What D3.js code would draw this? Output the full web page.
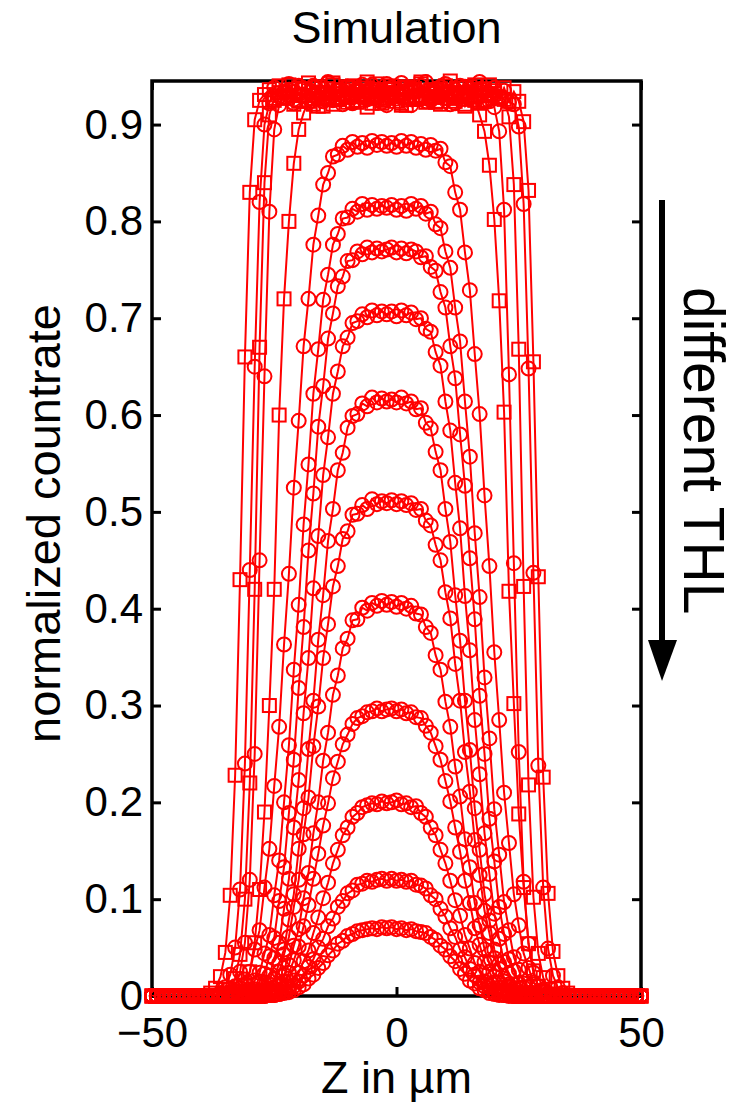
<!DOCTYPE html>
<html>
<head>
<meta charset="utf-8">
<script src="https://cdn.jsdelivr.net/npm/d3@7"></script>
<style>
  body { margin: 0; background: #fff; }
  text { font-family: "Liberation Sans", Arial, Helvetica, sans-serif; }
</style>
</head>
<body>
<svg id="chart" width="735" height="1102"></svg>
<script>
// beam position in um (x) for every simulated point
const zGrid = [
  -50,-49,-48,-47,-46,-45,-44,-43,-42,-41,-40,-39,-38,-37,-36,-35,-34,-33,-32,-31,
  -30,-29,-28,-27,-26,-25,-24,-23,-22,-21,-20,-19,-18,-17,-16,-15,-14,-13,-12,-11,
  -10,-9,-8,-7,-6,-5,-4,-3,-2,-1,0,1,2,3,4,5,6,7,8,9,
  10,11,12,13,14,15,16,17,18,19,20,21,22,23,24,25,26,27,28,29,
  30,31,32,33,34,35,36,37,38,39,40,41,42,43,44,45,46,47,48,49,50
];

const yTicks = [0, 0.1, 0.2, 0.3, 0.4, 0.5, 0.6, 0.7, 0.8, 0.9];
const yTickLabels = ["0", "0.1", "0.2", "0.3", "0.4", "0.5", "0.6", "0.7", "0.8", "0.9"];
const xTicks = [-50, 0, 50];
const xTickLabels = ["\u221250", "0", "50"];

// saturated curves (lowest thresholds)
const plateau1 = [
  0,0,0,0,0,0,0,0,0,0,
  0,0,
  .003,.008,.020,.045,.104,.228,.430,.660,.830,.905,.925,
  .931,.936,.925,.940,.928,.934,.921,.938,.930,.943,
  .927,.933,.919,.937,.941,.926,.932,.939,.924,.935,
  .929,.944,.922,.936,.931,.927,.940,.933,.920,.938,
  .934,.926,.942,.929,.935,.923,.937,.931,.945,.928,
  .933,.921,.939,.930,.936,.925,.941,.932,.927,.938,
  .924,.934,
  .924,.903,.832,.655,.433,.226,.106,.046,.021,.008,.003,
  0,0,0,0,0,0,0,0,0,0,
  0,0,0,0,0
];
const plateau2 = [
  0,0,0,0,0,0,0,0,0,0,
  0,0,0,0,
  .003,.009,.022,.050,.110,.240,.440,.650,.820,.900,.922,
  .938,.929,.934,.942,.926,.931,.937,.923,.940,.933,
  .928,.944,.925,.935,.930,.939,.922,.936,.932,.927,
  .941,.929,.934,.920,.938,.931,.943,.926,.935,.928,
  .940,.924,.933,.937,.929,.942,.921,.936,.931,.939,
  .927,.934,.944,.925,.932,.938,.929,.935,.923,
  .921,.898,.818,.648,.437,.238,.112,.049,.021,.009,.003,
  0,0,0,0,0,0,0,0,0,0,
  0,0,0,0,0,0
];
const plateau3 = [
  0,0,0,0,0,0,0,0,0,0,
  0,0,0,0,0,
  .002,.007,.018,.043,.100,.220,.420,.670,.840,.910,.927,
  .933,.927,.941,.930,.924,.937,.935,.921,.939,.932,
  .928,.943,.926,.936,.931,.940,.923,.934,.938,.929,
  .942,.925,.933,.937,.930,.922,.939,.935,.928,.944,
  .927,.932,.936,.924,.940,.931,.929,.938,.926,.934,
  .941,.922,.937,.930,.935,.928,
  .926,.908,.838,.668,.423,.218,.102,.044,.019,.007,.002,
  0,0,0,0,0,0,0,0,0,0,
  0,0,0,0,0,0,0,0
];
const plateau4 = [
  0,0,0,0,0,0,0,0,0,0,
  0,0,0,0,0,0,
  .004,.010,.025,.055,.120,.250,.450,.640,.810,.895,.920,
  .929,.936,.922,.940,.931,.927,.938,.933,.924,.943,
  .930,.935,.921,.939,.928,.934,.941,.926,.937,.930,
  .923,.942,.932,.927,.938,.935,.920,.936,.929,.944,
  .925,.933,.939,.928,.934,.922,.940,.931,.937,.926,
  .935,.930,.924,
  .918,.893,.812,.642,.447,.252,.118,.054,.024,.010,.004,
  0,0,0,0,0,0,0,0,0,0,
  0,0,0,0,0,0,0,0,0,0
];
const plateau5 = [
  0,0,0,0,0,0,0,0,0,0,
  0,0,0,0,0,0,0,0,
  .004,.010,.025,.055,.110,.190,.300,.420,
  .600,.720,.800,.860,.895,.912,
  .924,.930,.919,.933,.926,.921,.935,.928,.923,.938,
  .925,.931,.918,.934,.927,.922,.936,.929,.924,.932,
  .920,.937,.926,.930,.923,.935,.928,.921,.933,.927,
  .924,.931,.919,.929,.925,
  .910,.893,.858,.802,.718,.603,.418,.302,.188,.112,.054,.026,.010,.004,
  0,0,0,0,0,0,0,0,0,0,
  0,0,0,0,0,0,0,0,0,0
];

// peaked curves, highest first
const peak88 = [
  0,0,0,0,0,0,0,0,0,0,
  0,0,0,0,0,0,
  .003,.005,.008,.017,.025,.048,.068,.112,.152,.217,
  .278,.363,.436,.525,.594,.671,.720,.776,.806,.838,
  .850,.867,.869,.878,.874,.882,.877,.881,.876,.883,
  .879,.882,.878,
  .881,.877,.883,.878,.882,.876,.880,.874,.879,.873,
  .875,.861,.857,.830,.812,.768,.729,.663,.601,.517,
  .444,.355,.285,.210,.158,.105,.073,.044,.029,.014,
  .010,.004,.003,
  0,0,0,0,0,0,0,0,0,0,
  0,0,0,0,0,0,0,0,0
];
const peak815 = [
  0,0,0,0,0,0,0,0,0,0,
  0,0,0,0,0,0,0,0,
  .002,.005,.007,.016,.024,.044,.063,.104,.140,.200,
  .259,.337,.404,.487,.549,.622,.668,.719,.745,.776,
  .787,.803,.804,.813,.810,.818,.812,.817,.813,.816,.814,
  .817,.812,.816,.811,.818,.813,.816,.808,.810,.797,
  .793,.769,.752,.711,.676,.614,.557,.478,.412,.329,
  .266,.193,.146,.097,.068,.040,.027,.013,.009,.003,.002,
  0,0,0,0,0,0,0,0,0,0,
  0,0,0,0,0,0,0,0,0,0,0
];
const peak77 = [
  0,0,0,0,0,0,0,0,0,0,
  0,0,0,0,0,0,0,0,0,
  .002,.005,.007,.015,.023,.041,.060,.098,.133,.189,
  .244,.318,.381,.460,.519,.588,.630,.679,.705,.733,
  .743,.759,.760,.769,.766,.773,.768,.772,.769,.771,
  .773,.768,.772,.767,.771,.769,.763,.764,.753,.749,
  .727,.711,.671,.638,.580,.527,.452,.389,.310,.250,
  .183,.139,.092,.064,.038,.026,.013,.009,.003,.002,
  0,0,0,0,0,0,0,0,0,0,
  0,0,0,0,0,0,0,0,0,0,0,0
];
const peak705 = [
  0,0,0,0,0,0,0,0,0,0,
  0,0,0,0,0,0,0,0,0,0,
  .002,.005,.006,.014,.021,.039,.055,.090,.121,.174,
  .223,.292,.349,.421,.475,.538,.577,.622,.645,.671,
  .680,.695,.697,.704,.701,.708,.703,.707,.704,
  .707,.702,.708,.703,.706,.699,.700,.689,.686,.665,
  .651,.614,.584,.530,.483,.413,.357,.285,.229,.168,
  .126,.085,.059,.035,.023,.012,.008,.003,.002,
  0,0,0,0,0,0,0,0,0,0,
  0,0,0,0,0,0,0,0,0,0,0,0,0
];
const peak615 = [
  0,0,0,0,0,0,0,0,0,0,
  0,0,0,0,0,0,0,0,0,0,0,
  .002,.004,.005,.012,.018,.034,.048,.079,.105,.152,
  .194,.255,.305,.368,.414,.470,.503,.543,.561,.587,
  .599,.601,.612,.609,.618,.613,.617,.614,
  .616,.613,.618,.612,.614,.606,.607,.592,.586,.562,
  .543,.503,.469,.414,.367,.305,.254,.194,.151,.105,
  .078,.048,.033,.018,.012,.005,.003,.002,
  0,0,0,0,0,0,0,0,0,0,
  0,0,0,0,0,0,0,0,0,0,0,0,0,0
];
const peak51 = [
  0,0,0,0,0,0,0,0,0,0,
  0,0,0,0,0,0,0,0,0,0,0,
  .002,.003,.006,.008,.017,.025,.043,.061,.092,.120,
  .167,.205,.258,.299,.349,.384,.423,.444,.472,.480,
  .497,.498,.507,.503,.513,.508,.511,.509,
  .512,.508,.511,.507,.509,.502,.503,.491,.486,.466,
  .450,.417,.390,.343,.305,.252,.211,.161,.125,.088,
  .065,.039,.028,.015,.010,.004,.003,.001,
  0,0,0,0,0,0,0,0,0,0,
  0,0,0,0,0,0,0,0,0,0,0,0,0,0
];
const peak405 = [
  0,0,0,0,0,0,0,0,0,0,
  0,0,0,0,0,0,0,0,0,0,0,0,
  .001,.002,.004,.008,.012,.022,.032,.052,.069,.101,
  .127,.168,.200,.243,.272,.311,.331,.359,.369,.388,
  .389,.401,.398,.406,.403,.408,.404,
  .407,.402,.406,.400,.403,.395,.394,.381,.375,.352,
  .337,.304,.278,.237,.206,.162,.133,.096,.073,.048,
  .034,.020,.014,.006,.004,.002,.001,
  0,0,0,0,0,0,0,0,0,0,
  0,0,0,0,0,0,0,0,0,0,0,0,0,0,0
];
const peak295 = [
  0,0,0,0,0,0,0,0,0,0,
  0,0,0,0,0,0,0,0,0,0,0,0,
  .001,.002,.003,.005,.010,.015,.024,.037,.051,.072,
  .094,.121,.147,.176,.199,.225,.242,.260,.270,.281,
  .287,.289,.293,.294,.297,.294,.296,
  .297,.294,.296,.292,.293,.288,.287,.279,.272,.258,
  .244,.222,.201,.174,.149,.119,.096,.070,.053,.035,
  .025,.014,.009,.005,.003,.001,.001,
  0,0,0,0,0,0,0,0,0,0,
  0,0,0,0,0,0,0,0,0,0,0,0,0,0,0
];
const peak20 = [
  0,0,0,0,0,0,0,0,0,0,
  0,0,0,0,0,0,0,0,0,0,0,0,0,
  .001,.001,.002,.004,.007,.010,.016,.024,.036,.047,
  .065,.081,.101,.117,.137,.151,.166,.174,.185,.189,
  .195,.197,.199,.198,.201,.199,
  .200,.202,.198,.199,.195,.196,.189,.185,.174,.166,
  .151,.137,.119,.099,.083,.063,.049,.034,.025,.015,
  .010,.005,.004,.002,.001,0,
  0,0,0,0,0,0,0,0,0,0,
  0,0,0,0,0,0,0,0,0,0,0,0,0,0,0,0
];
const peak12 = [
  0,0,0,0,0,0,0,0,0,0,
  0,0,0,0,0,0,0,0,0,0,0,0,0,0,
  .001,.001,.002,.004,.007,.010,.015,.021,.030,.038,
  .050,.059,.072,.080,.092,.098,.106,.109,.115,.116,
  .119,.118,.120,.121,.119,
  .121,.119,.120,.118,.119,.115,.114,.111,.104,.100,
  .090,.082,.070,.061,.048,.040,.028,.022,.014,.010,
  .006,.003,.002,.001,.001,
  0,0,0,0,0,0,0,0,0,0,
  0,0,0,0,0,0,0,0,0,0,0,0,0,0,0,0,0
];
const peak07 = [
  0,0,0,0,0,0,0,0,0,0,
  0,0,0,0,0,0,0,0,0,0,0,0,0,
  .000,.001,.001,.002,.003,.004,.006,.009,.012,.018,
  .022,.029,.034,.042,.047,.054,.057,.062,.064,.067,
  .068,.069,.070,.069,.071,.070,
  .071,.069,.070,.068,.069,.067,.066,.065,.061,.058,
  .052,.048,.041,.036,.028,.023,.016,.013,.008,.006,
  .003,.002,.001,.001,0,0,
  0,0,0,0,0,0,0,0,0,0,
  0,0,0,0,0,0,0,0,0,0,0,0,0,0,0,0
];

const seriesList = [plateau1, plateau2, plateau3, plateau4, plateau5,
  peak88, peak815, peak77, peak705, peak615, peak51, peak405, peak295, peak20, peak12, peak07];

// ---- drawing ----
const red = "#ff0000",
    squareSeries = new Set([0, 2, 4]),
    plotLeft = 152, plotRight = 641, plotTop = 81, plotBottom = 996;

const svg = d3.select("#chart");

const x = d3.scaleLinear().domain([-50, 50]).range([plotLeft, plotRight]);
const y = d3.scaleLinear().domain([0, 0.945]).range([plotBottom, plotTop]);

svg.append("defs").append("clipPath").attr("id", "plot-clip")
  .append("rect")
    .attr("x", plotLeft).attr("y", plotTop)
    .attr("width", plotRight - plotLeft).attr("height", plotBottom - plotTop);

function styleAxis(g, size) {
  g.attr("font-family", null).attr("font-size", null);
  g.select(".domain").remove();
  g.selectAll(".tick line").attr("stroke", "#000").attr("stroke-width", 3);
  g.selectAll(".tick text").attr("fill", "#000").style("font-size", size + "px");
}

svg.append("g")
    .attr("transform", `translate(${plotLeft},0)`)
    .call(d3.axisLeft(y).tickValues(yTicks).tickFormat((d, i) => yTickLabels[i]).tickSize(-9).tickPadding(9))
    .call(g => styleAxis(g, 42));

svg.append("g")
    .attr("transform", `translate(${plotRight},0)`)
    .call(d3.axisRight(y).tickValues(yTicks).tickFormat("").tickSize(-9))
    .call(g => styleAxis(g, 42));

svg.append("g")
    .attr("transform", `translate(0,${plotBottom})`)
    .call(d3.axisBottom(x).tickValues(xTicks).tickFormat((d, i) => xTickLabels[i]).tickSize(-9).tickPadding(21))
    .call(g => styleAxis(g, 42));

svg.append("g")
    .attr("transform", `translate(0,${plotTop})`)
    .call(d3.axisTop(x).tickValues(xTicks).tickFormat("").tickSize(-9))
    .call(g => styleAxis(g, 42));

svg.append("rect")
    .attr("x", plotLeft).attr("y", plotTop)
    .attr("width", plotRight - plotLeft).attr("height", plotBottom - plotTop)
    .attr("fill", "none").attr("stroke", "#000").attr("stroke-width", 3.5);

const line = d3.line()
    .defined(d => d[1] != null)
    .x(d => x(d[0]))
    .y(d => y(d[1]));

const curves = svg.append("g").attr("class", "curves");

seriesList.forEach((vals, si) => {
  const pts = zGrid.map((z, i) => [z, vals[i]]);
  const g = curves.append("g");

  g.append("path")
      .attr("clip-path", "url(#plot-clip)")
      .attr("d", line(pts))
      .attr("fill", "none")
      .attr("stroke", red)
      .attr("stroke-width", 2);

  if (squareSeries.has(si)) {
    g.selectAll("rect").data(pts.filter(d => d[1] != null)).join("rect")
        .attr("x", d => x(d[0]) - 6.5)
        .attr("y", d => y(d[1]) - 6.5)
        .attr("width", 13).attr("height", 13)
        .attr("fill", "none").attr("stroke", red).attr("stroke-width", 2);
  } else {
    g.selectAll("circle").data(pts.filter(d => d[1] != null)).join("circle")
        .attr("cx", d => x(d[0]))
        .attr("cy", d => y(d[1]))
        .attr("r", 7)
        .attr("fill", "none").attr("stroke", red).attr("stroke-width", 2);
  }
});

// titles
svg.append("text")
    .attr("x", (plotLeft + plotRight) / 2).attr("y", 43)
    .attr("text-anchor", "middle")
    .style("font-size", "45px")
    .text("Simulation");

svg.append("text")
    .attr("x", (plotLeft + plotRight) / 2).attr("y", 1093)
    .attr("text-anchor", "middle")
    .style("font-size", "45px")
    .text("Z in \u00b5m");

svg.append("text")
    .attr("transform", `translate(60,${(plotTop + plotBottom) / 2 - 15}) rotate(-90)`)
    .attr("text-anchor", "middle")
    .style("font-size", "47px")
    .text("normalized countrate");

// THL annotation with arrow
svg.append("line")
    .attr("x1", 662).attr("x2", 662)
    .attr("y1", 200).attr("y2", 645)
    .attr("stroke", "#000").attr("stroke-width", 6);

svg.append("path")
    .attr("d", "M648,640L677,640L662,681Z")
    .attr("fill", "#000");

svg.append("text")
    .attr("transform", "translate(684,287) rotate(90)")
    .attr("text-anchor", "start")
    .style("font-size", "57px")
    .text("different THL");
</script>
</body>
</html>
